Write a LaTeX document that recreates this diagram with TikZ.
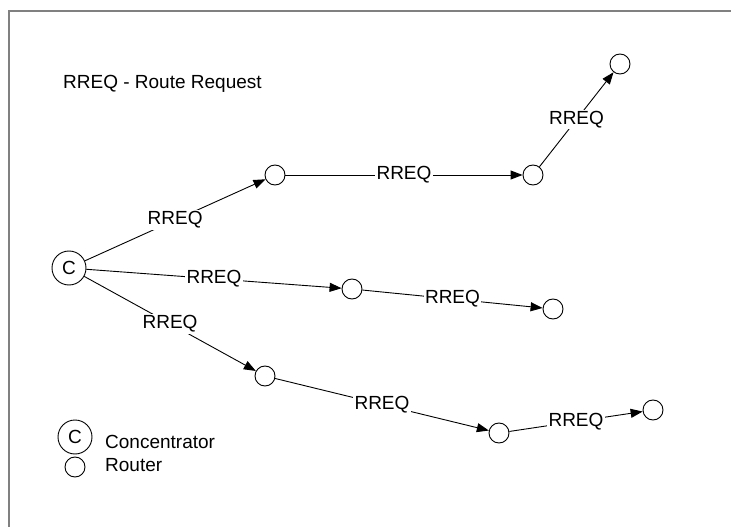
\documentclass[tikz,border=0pt]{standalone}
\usepackage{fontspec}
\setmainfont{Liberation Sans}
\usetikzlibrary{arrows.meta}
\begin{document}
\begin{tikzpicture}[x=1pt,y=-1pt,
  font=\fontsize{19}{22}\selectfont,
  conc/.style={draw,circle,minimum size=34pt,inner sep=0pt,line width=0.9pt},
  router/.style={draw,circle,minimum size=20pt,inner sep=0pt,line width=0.9pt},
  msg/.style={line width=0.9pt,-{Triangle[length=12pt,width=9pt]}},
  lbl/.style={fill=white,inner sep=1.5pt,midway},
  txt/.style={anchor=west,inner sep=0pt},
  frame/.style={draw=black!50,line width=2pt}]
\useasboundingbox (0,0) rectangle (732,527);
\draw[frame] (9,527) -- (9,11) -- (731,11);
% nodes
\node[conc] (c) at (69,268) {C};
\node[router] (r1) at (275,175) {};
\node[router] (r2) at (533,175) {};
\node[router] (r3) at (620,64) {};
\node[router] (r4) at (352,289) {};
\node[router] (r5) at (553,309) {};
\node[router] (r6) at (265,376) {};
\node[router] (r7) at (499,433) {};
\node[router] (r8) at (653,410) {};
% connectors
\draw[msg] (c) -- node[lbl] (l1) {RREQ} (r1);
\draw[msg] (c) -- node[lbl] (l2) {RREQ} (r4);
\draw[msg] (c) -- node[lbl] (l3) {RREQ} (r6);
\draw[msg] (r1) -- node[lbl] (l4) {RREQ} (r2);
\draw[msg] (r2) -- node[lbl] (l5) {RREQ} (r3);
\draw[msg] (r4) -- node[lbl] (l6) {RREQ} (r5);
\draw[msg] (r6) -- node[lbl] (l7) {RREQ} (r7);
\draw[msg] (r7) -- node[lbl] (l8) {RREQ} (r8);
% title
\node[txt] (title) at (63,84) {RREQ - Route Request};
% legend
\node[conc] (legc) at (75,437) {C};
\node[router] (legr) at (75,467) {};
\node[txt] (legct) at (105,442) {Concentrator};
\node[txt] (legrt) at (105,465) {Router};
\end{tikzpicture}
\end{document}
